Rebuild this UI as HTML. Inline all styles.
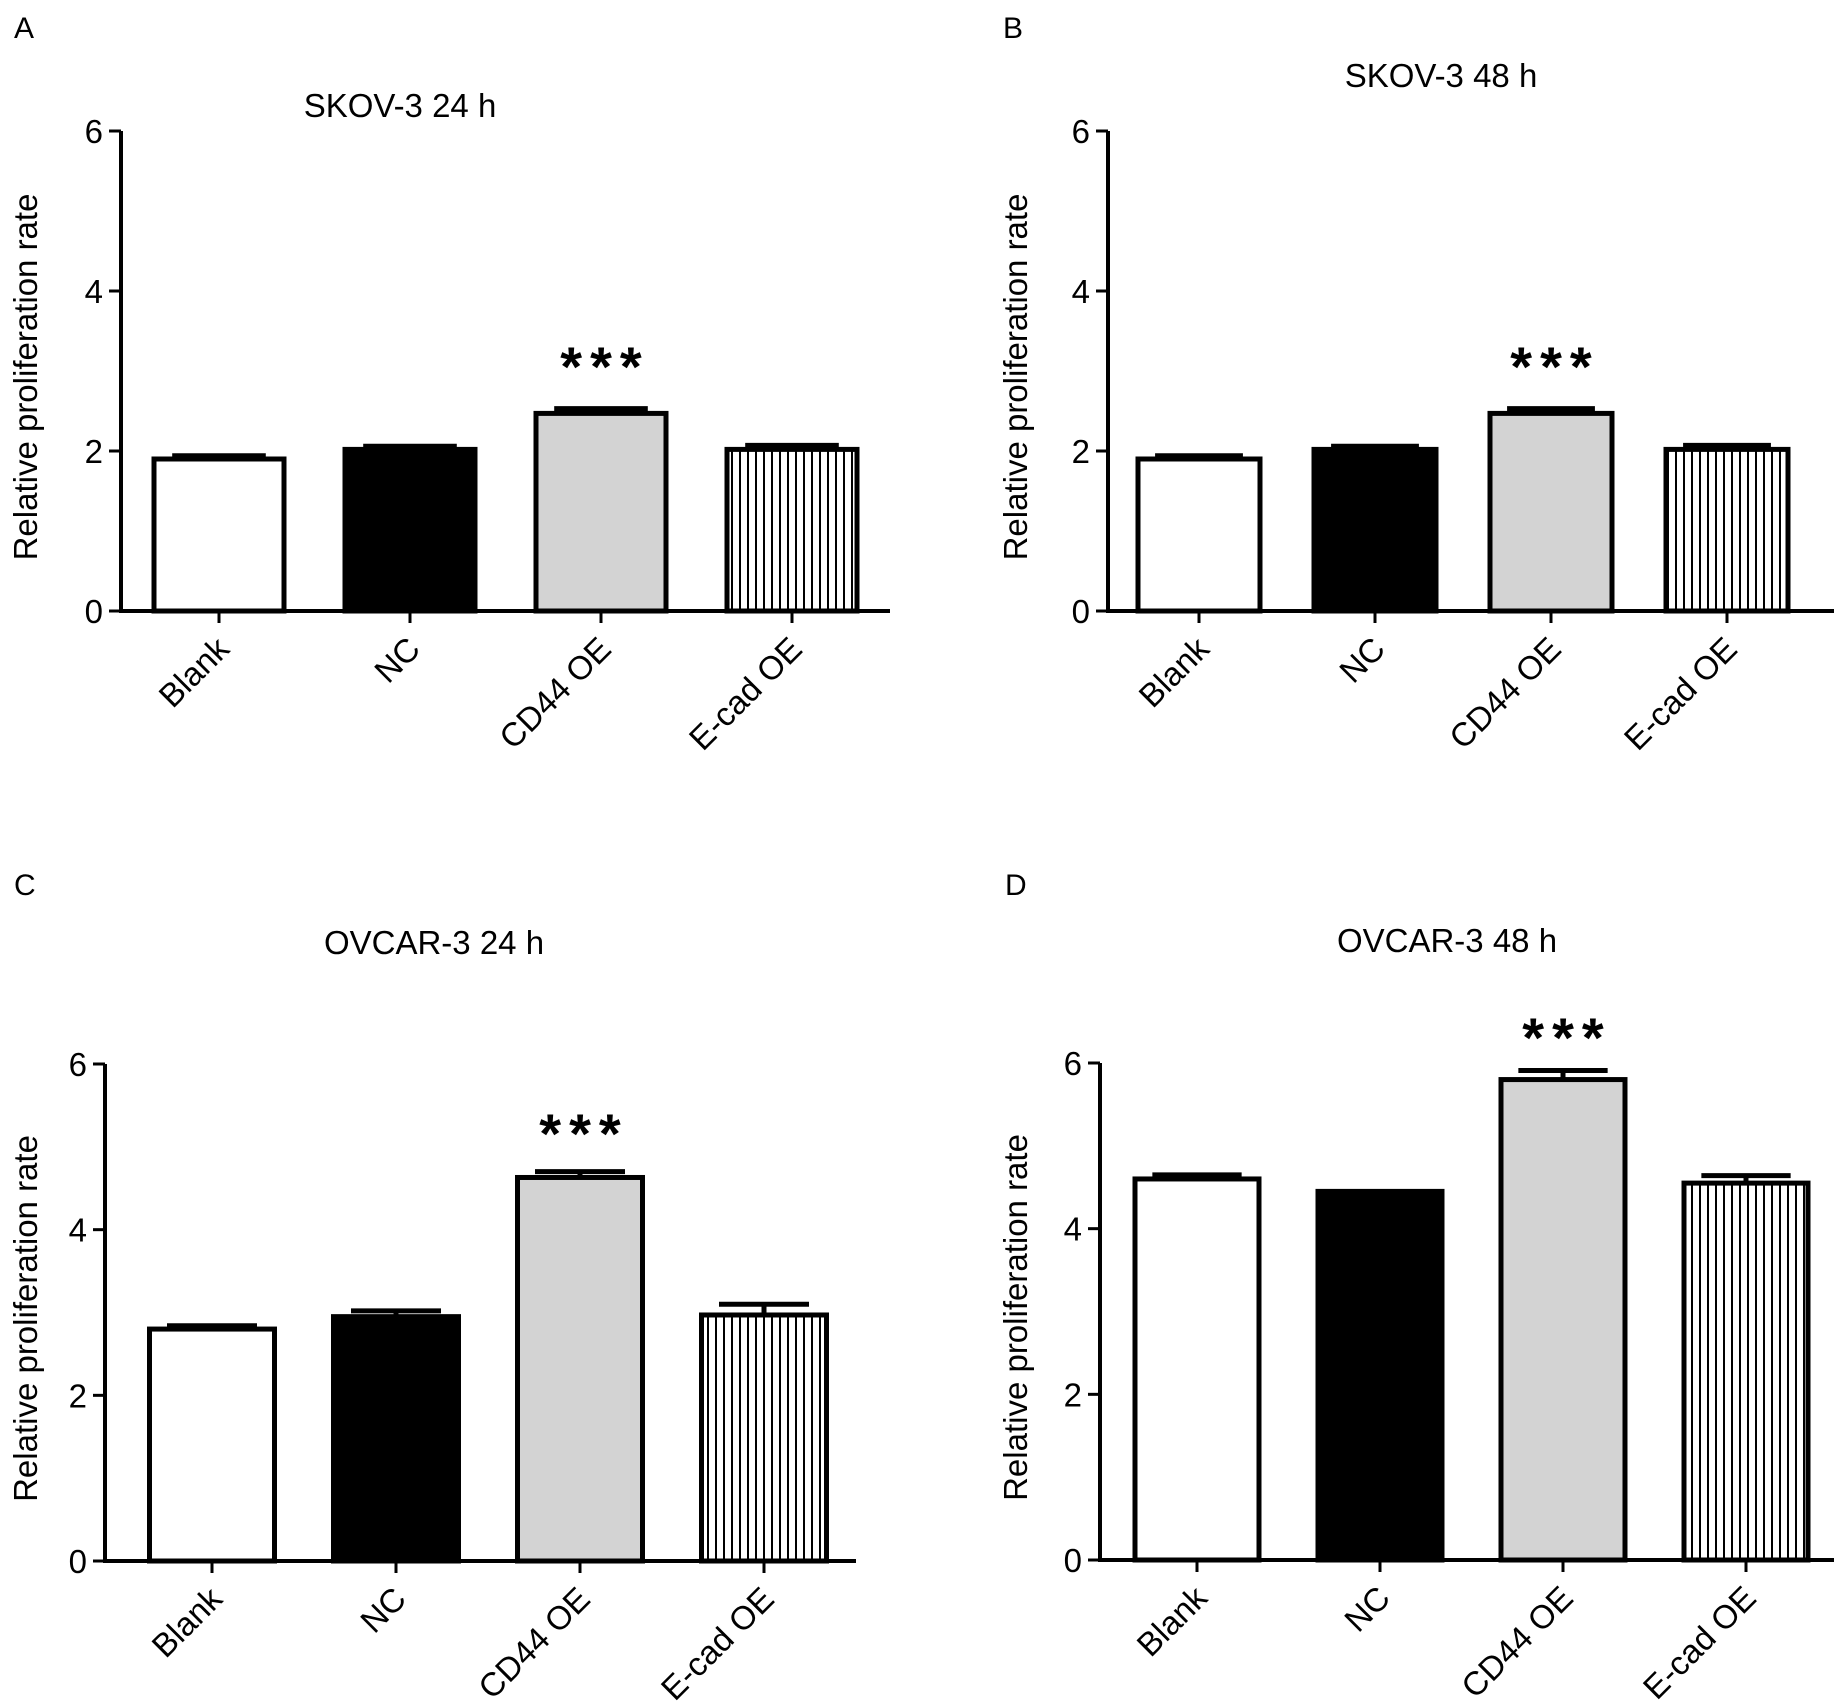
<!DOCTYPE html>
<html><head><meta charset="utf-8"><style>
html,body{margin:0;padding:0;background:#fff;}
svg{display:block;font-family:"Liberation Sans",Arial,sans-serif;}
</style></head><body>
<svg id="fig" width="1846" height="1702" viewBox="0 0 1846 1702" xmlns="http://www.w3.org/2000/svg">
<defs>
<pattern id="vhatch" patternUnits="userSpaceOnUse" width="8" height="10">
<rect width="8" height="10" fill="#fff"/><rect x="3" width="2" height="10" fill="#000"/>
</pattern>
</defs>
</svg>
<script>
const categories = ["Blank","NC","CD44 OE","E-cad OE"];
const yTicks = [0,2,4,6];
const valuesA = [1.9, 2.02, 2.47, 2.02];
const errorsA = [1.94, 2.06, 2.53, 2.07];
const valuesB = [1.9, 2.02, 2.47, 2.02];
const errorsB = [1.94, 2.06, 2.53, 2.07];
const valuesC = [2.8, 2.95, 4.63, 2.97];
const errorsC = [2.84, 3.02, 4.7, 3.1];
const valuesD = [4.6, 4.45, 5.8, 4.55];
const errorsD = [4.65, 4.45, 5.91, 4.64];
const starsA = [false,false,true,false];
const starsB = [false,false,true,false];
const starsC = [false,false,true,false];
const starsD = [false,false,true,false];
const titles = ["SKOV-3 24 h","SKOV-3 48 h","OVCAR-3 24 h","OVCAR-3 48 h"];
const letters = ["A","B","C","D"];

const NS="http://www.w3.org/2000/svg";
const svg=document.getElementById('fig');
function mk(tag,attrs,parent,text){const e=document.createElementNS(NS,tag);for(const k in attrs)e.setAttribute(k,attrs[k]);if(text!==undefined)e.textContent=text;(parent||svg).appendChild(e);return e;}
const fills=["#fff","#000","#d3d3d3","url(#vhatch)"];

function panel(cfg,vals,errs,stars,idx){
  const g=mk('g',{});
  
  
  const y=v=>cfg.y0-(v/6)*(cfg.y0-cfg.y6);
  const x=i=>cfg.c0+i*cfg.sp;
  const L=mk('text',{x:cfg.lx,y:cfg.ly,'font-size':30},g,letters[idx]);
  
  
  const T=mk('text',{x:cfg.tx,y:cfg.ty,'font-size':33,'text-anchor':'middle'},g,titles[idx]);
  
  
  const yl=mk('text',{x:0,y:0,'font-size':33,'text-anchor':'middle',transform:`translate(${cfg.ylx},${(cfg.y0+cfg.y6)/2+6}) rotate(-90)`},g,'Relative proliferation rate');
  
  
  vals.forEach((v,i)=>{
    const bx=x(i)-cfg.bw/2;
    const r=mk('rect',{x:bx,y:y(v),width:cfg.bw,height:cfg.y0-y(v),fill:fills[i],stroke:'#000','stroke-width':5},g);
    
    
    if(errs[i]>v){
      const e=mk('path',{d:`M${x(i)},${y(v)}V${y(errs[i])}M${x(i)-cfg.bw*0.36},${y(errs[i])}H${x(i)+cfg.bw*0.36}`,stroke:'#000','stroke-width':5,fill:'none'},g);
      
      
    }
    if(stars[i]){
      const s=mk('text',{x:x(i)+4,y:cfg.sy,'font-size':56,'font-weight':'bold','text-anchor':'middle','letter-spacing':'8'},g,'***');
      
      
    }
    const t=mk('line',{x1:x(i),x2:x(i),y1:cfg.y0,y2:cfg.y0+12,stroke:'#000','stroke-width':3},g);
    
    
    const lab=mk('text',{x:0,y:0,'font-size':33,'text-anchor':'end',transform:`translate(${x(i)+12},${cfg.y0+40}) rotate(-45)`},g,categories[i]);
    
    
  });
  yTicks.forEach(tv=>{
    const tl=mk('line',{x1:cfg.ax-12,x2:cfg.ax,y1:y(tv),y2:y(tv),stroke:'#000','stroke-width':3},g);
    
    
    const tt=mk('text',{x:cfg.ax-18,y:y(tv)+12,'font-size':33,'text-anchor':'end'},g,String(tv));
    
    
  });
  const ya=mk('line',{x1:cfg.ax,x2:cfg.ax,y1:cfg.y6,y2:cfg.y0+2,stroke:'#000','stroke-width':4},g);
  
  
  const xa=mk('line',{x1:cfg.ax-2,x2:cfg.axEnd,y1:cfg.y0,y2:cfg.y0,stroke:'#000','stroke-width':4},g);
  
  
}
panel({ax:121,axEnd:890,y0:611,y6:131,c0:219,sp:191,bw:130,lx:14,ly:38,tx:400,ty:117,sy:386,ylx:37},valuesA,errorsA,starsA,0);
panel({ax:1108,axEnd:1834,y0:611,y6:131,c0:1199,sp:176,bw:122,lx:1003,ly:38,tx:1441,ty:87,sy:386,ylx:1027},valuesB,errorsB,starsB,1);
panel({ax:105,axEnd:856,y0:1561,y6:1064,c0:212,sp:184,bw:125,lx:14,ly:895,tx:434,ty:954,sy:1153,ylx:37},valuesC,errorsC,starsC,2);
panel({ax:1100,axEnd:1834,y0:1560,y6:1063,c0:1197,sp:183,bw:124,lx:1005,ly:895,tx:1447,ty:952,sy:1057,ylx:1027},valuesD,errorsD,starsD,3);
</script>
</body></html>
